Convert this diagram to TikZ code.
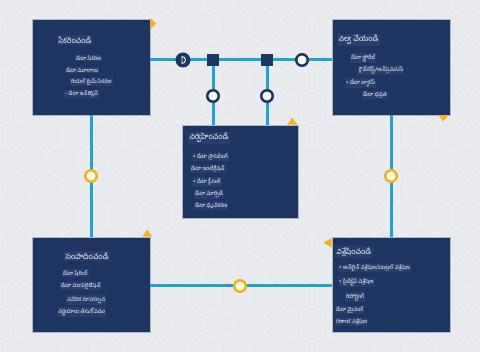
\documentclass[tikz,border=0pt]{standalone}
\usepackage{fontspec}
\newfontfamily\tefont[Script=Telugu]{Hind Guntur}
\usetikzlibrary{positioning,shapes.geometric}

\definecolor{bgcol}{HTML}{E8EAED}
\definecolor{navy}{HTML}{1E3461}
\definecolor{navyhi}{HTML}{283F6E}
\definecolor{linkblue}{HTML}{1DA4D5}
\definecolor{amber}{HTML}{F5B324}

\begin{document}
\begin{tikzpicture}[
  x=1pt, y=-1pt,
  panel/.style={
    draw=white!65!navy,
    line width=0.6pt,
    fill=navy,
    minimum width=118pt,
    minimum height=96pt,
    inner sep=0pt
  },
  heading/.style={fill=navyhi, text=white, font=\tefont\fontsize{7.5}{8}\selectfont, inner sep=1.5pt, anchor=west},
  item/.style={fill=navyhi, text=white, font=\tefont\fontsize{5.5}{6}\selectfont, inner sep=1pt, anchor=west},
  link/.style={draw=linkblue, line width=3pt},
  ring/.style={circle, draw=navy, line width=2.5pt, fill=white, minimum size=11.5pt, inner sep=0pt},
  goldring/.style={circle, draw=amber, line width=2.5pt, fill=yellow!12!white, minimum size=11.5pt, inner sep=0pt},
  plug/.style={circle, fill=navy, minimum size=15pt, inner sep=0pt},
  sq/.style={fill=navy, minimum size=12pt, inner sep=0pt},
  flag/.style={fill=amber},
  hexline/.style={draw=white!30!bgcol, line width=0.5pt}
]
% background
\fill[bgcol] (0,0) rectangle (480,352);
\useasboundingbox (0,0) rectangle (480,352);
\begin{scope}
\clip (0,0) rectangle (480,352);
\foreach \j in {0,...,13} {
  \foreach \i in {0,...,16} {
    \pgfmathsetmacro{\hx}{\i*31.2 + mod(\j,2)*15.6}
    \pgfmathsetmacro{\hy}{\j*27}
    \draw[hexline] (\hx,\hy) +(90:18) -- +(150:18) -- +(210:18) -- +(270:18) -- +(330:18) -- +(30:18) -- cycle;
  }
}
\end{scope}

% panels
\node[panel] (collect) at (91,67)    {};
\node[panel] (store)   at (391,67)   {};
\node[panel, minimum width=116pt, minimum height=93pt] (manage) at (240,171.5) {};
\node[panel, minimum height=95pt] (share)   at (91,284.5)  {};
\node[panel, minimum height=95pt] (analyse) at (391,284.5) {};

% corner flags
\fill[flag] (collect.north east) ++(0,-1) -- ++(6,6) -- ++(-6,6) -- cycle;
\fill[flag] (store.south east) ++(-12,0) -- ++(5,6) -- ++(5,-6) -- cycle;
\fill[flag] (manage.north east) ++(-11,0) -- ++(5,-7) -- ++(5,7) -- cycle;
\fill[flag] (share.north east) ++(-8,0) -- ++(5,-7) -- ++(5,7) -- cycle;
\fill[flag] (analyse.north west) ++(0,1) -- ++(-8,5) -- ++(8,5) -- cycle;

% junction points
\coordinate (plugpt) at (183,60);
\coordinate (sqL)    at (213,60);
\coordinate (sqR)    at (267,60);
\coordinate (ringTR) at (302,60);
\coordinate (ringL)  at (213,96);
\coordinate (ringR)  at (267,96);
\coordinate (ringW)  at (91,176);
\coordinate (ringE)  at (391,176);
\coordinate (ringS)  at (240,286);

% connectors
\draw[link] (collect.east |- plugpt) -- (store.west |- plugpt);
\draw[link] (sqL) -- (sqL |- manage.north);
\draw[link] (sqR) -- (sqR |- manage.north);
\draw[link] (collect.south) -- (share.north);
\draw[link] (store.south) -- (analyse.north);
\draw[link] (share.east |- ringS) -- (analyse.west |- ringS);

% markers
\node[plug] (plug) at (plugpt) {};
\draw[white, line width=0.8pt] (plug.center) ++(-1,-3.5) arc (-90:90:3.5) -- cycle;
\node[sq] (squareL) at (sqL) {};
\node[sq] (squareR) at (sqR) {};
\node[ring] (topring) at (ringTR) {};
\node[ring] (leftring) at (ringL) {};
\node[ring] (rightring) at (ringR) {};
\node[goldring] (westring) at (ringW) {};
\node[goldring] (eastring) at (ringE) {};
\node[goldring] (southring) at (ringS) {};

% texts: collect
\node[heading] (collectT) at (57,40) {సేకరించండి};
\node[item] at (75,58) {డేటా సేకరణ};
\node[item] at (65,70) {డేటా మూలాలు};
\node[item] at (70,82) {రియల్ టైమ్ సేకరణ};
\node[item] at (64,94) {- డేటా ఇన్‌జెక్షన్};

% texts: store
\node[heading] (storeT) at (337,40) {నిల్వ చేయండి};
\node[item] at (350,58) {డేటా స్టోరేజ్};
\node[item] at (358,70) {క్లౌడ్‌బేస్డ్/ఆన్‌ప్రెమిసెస్};
\node[item] at (345,83) {• డేటా బ్యాకప్};
\node[item] at (362,95) {డేటా భద్రత};

% texts: manage
\node[heading] (manageT) at (188,138) {నిర్వహించండి};
\node[item] at (192,157) {• డేటా ప్రాసెసింగ్};
\node[item] at (190,169) {డేటా ఇంటిగ్రేషన్};
\node[item] at (192,182) {• డేటా క్లీనింగ్};
\node[item] at (194,194) {డేటా మార్పిడి};
\node[item] at (194,206) {డేటా ధృవీకరణ};

% texts: share
\node[heading] (shareT) at (64,256) {సంపాదించండి};
\node[item] at (62,273) {డేటా షేరింగ్};
\node[item] at (60,286) {డేటా విజువలైజేషన్};
\node[item] at (66,300) {నివేదిక రూపకల్పన};
\node[item] at (57,312) {నిర్ణయాలు తీసుకోవడం};

% texts: analyse
\node[heading] (analyseT) at (335,252) {విశ్లేషించండి};
\node[item] at (338,268) {• ఆన్‌లైన్ విశ్లేషణ/సెంట్రల్ విశ్లేషణ};
\node[item] at (338,282) {• ప్రిడిక్టివ్ విశ్లేషణ};
\node[item] at (345,297) {రిపోర్టింగ్};
\node[item] at (335,310) {డేటా మైనింగ్};
\node[item] at (335,322) {గణాంక విశ్లేషణ};
\end{tikzpicture}
\end{document}
